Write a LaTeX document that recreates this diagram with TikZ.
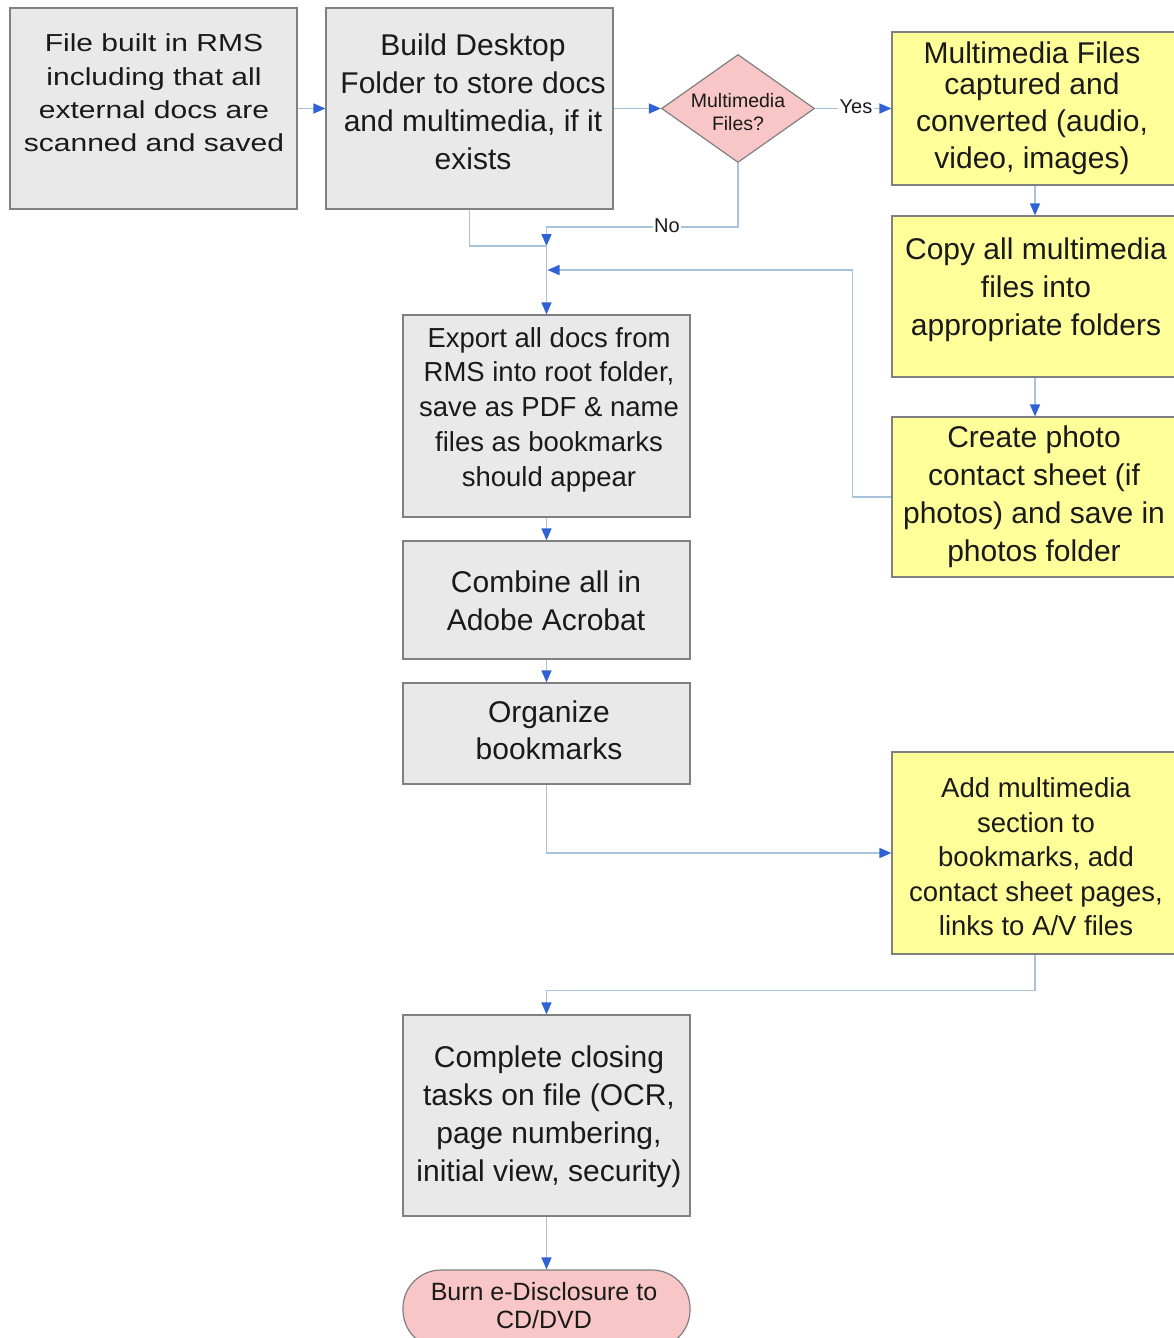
\documentclass[tikz,border=0pt]{standalone}
\usepackage{fontspec}
\setmainfont{Liberation Sans}
\usetikzlibrary{arrows.meta,shapes.geometric}
\definecolor{grayfill}{HTML}{E9E9E9}
\definecolor{yelfill}{HTML}{FFFF99}
\definecolor{pinkfill}{HTML}{F8C6C6}
\definecolor{edge}{HTML}{808080}
\definecolor{conn}{HTML}{A9C3DB}
\definecolor{tipblue}{HTML}{2F62D4}
\definecolor{ink}{HTML}{1A1A1A}
\begin{document}
\begin{tikzpicture}[x=1pt,y=-1pt,
  shapebox/.style={draw=edge, line width=1.2pt, inner sep=0pt, minimum width=287pt},
  graybox/.style={shapebox, fill=grayfill},
  yelbox/.style={shapebox, fill=yelfill, minimum width=286pt},
  decision/.style={diamond, draw=edge, line width=1.2pt, fill=pinkfill, inner sep=0pt, minimum width=153pt, minimum height=108pt},
  terminal/.style={shapebox, fill=pinkfill, rounded corners=38pt, minimum height=78pt},
  txt/.style={text=ink, align=center, inner sep=0pt},
  big/.style={txt, font=\fontsize{30}{38}\selectfont},
  mid/.style={txt, font=\fontsize{27.5}{34.8}\selectfont},
  lbl/.style={text=ink, fill=white, inner sep=1.5pt, font=\fontsize{20}{23}\selectfont},
  link/.style={draw=conn, line width=1.5pt},
  arr/.style={link, -{Triangle[length=12pt,width=10pt,color=tipblue]}},
]
\useasboundingbox[fill=white] (0,0) rectangle (1173,1338);

% boxes
\node[graybox, minimum height=201pt] (b1) at (153.5,108.5) {};
\node[graybox, minimum height=201pt] (b2) at (469.5,108.5) {};
\node[decision] (dec) at (738,108.5) {};
\node[yelbox, minimum height=153pt] (y1) at (1035,108.5) {};
\node[yelbox, minimum height=161pt] (y2) at (1035,296.5) {};
\node[yelbox, minimum height=160pt] (y3) at (1035,497) {};
\node[graybox, minimum height=202pt] (b7) at (546.5,416) {};
\node[graybox, minimum height=118pt] (b8) at (546.5,600) {};
\node[graybox, minimum height=101pt] (b9) at (546.5,733.5) {};
\node[yelbox, minimum height=202pt] (y4) at (1035,853) {};
\node[graybox, minimum height=201pt] (b11) at (546.5,1115.5) {};
\node[terminal] (term) at (546.5,1309) {};

% texts
\node[txt] (t1) at (154,95) {\scalebox{1}[0.82]{\fontsize{30}{40.5}\selectfont\begin{tabular}{@{}c@{}}File built in RMS\\including that all\\external docs are\\scanned and saved\end{tabular}}};
\node[big] (t2) at (473,102) {Build Desktop\\Folder to store docs\\and multimedia, if it\\exists};
\node[txt, font=\fontsize{19.5}{23}\selectfont] (td) at (738,112) {Multimedia\\Files?};
\node[big, font=\fontsize{30}{37}\selectfont] (ty1) at (1032,108) {Multimedia Files\\[-6pt]captured and\\converted (audio,\\video, images)};
\node[big] (ty2) at (1036,290) {Copy all multimedia\\files into\\appropriate folders};
\node[big] (ty3) at (1034,497) {Create photo\\contact sheet (if\\photos) and save in\\photos folder};
\node[mid] (t7) at (549,409.5) {Export all docs from\\RMS into root folder,\\save as PDF \& name\\files as bookmarks\\should appear};
\node[big] (t8) at (546,601) {Combine all in\\Adobe Acrobat};
\node[big, font=\fontsize{30}{37}\selectfont] (t9) at (549,730.5) {Organize\\bookmarks};
\node[mid, font=\fontsize{27.5}{34.5}\selectfont] (ty4) at (1036,857) {Add multimedia\\section to\\bookmarks, add\\contact sheet pages,\\links to A/V files};
\node[big] (t11) at (549,1117) {Complete closing\\tasks on file (OCR,\\page numbering,\\initial view, security)};
\node[txt, font=\fontsize{25}{28}\selectfont] (tt) at (544,1306) {Burn e-Disclosure to\\CD/DVD};

% helper coordinates
\coordinate (J) at (546.5,246);
\coordinate (F) at (547.5,270);

% connectors
\draw[arr] (b1.east) -- (b2.west);
\draw[arr] (b2.east) -- (dec.west);
\draw[arr] (dec.east) -- (y1.west);
\draw[arr] (dec.south) -- ++(0,64) -| (J);
\draw[link] (b2.south) |- (J);
\draw[arr] (J) -- (b7.north);
\draw[arr] (y3.west) -- ++(-39,0) |- (F);
\draw[arr] (y1.south) -- (y2.north);
\draw[arr] (y2.south) -- (y3.north);
\draw[arr] (b7.south) -- (b8.north);
\draw[arr] (b8.south) -- (b9.north);
\draw[arr] (b9.south) |- (y4.west);
\draw[arr] (y4.south) -- ++(0,36) -| (b11.north);
\draw[arr] (b11.south) -- (term.north);

% labels
\node[lbl] (yes) at (856,107) {Yes};
\node[lbl] (no) at (667,226) {No};
\end{tikzpicture}
\end{document}
